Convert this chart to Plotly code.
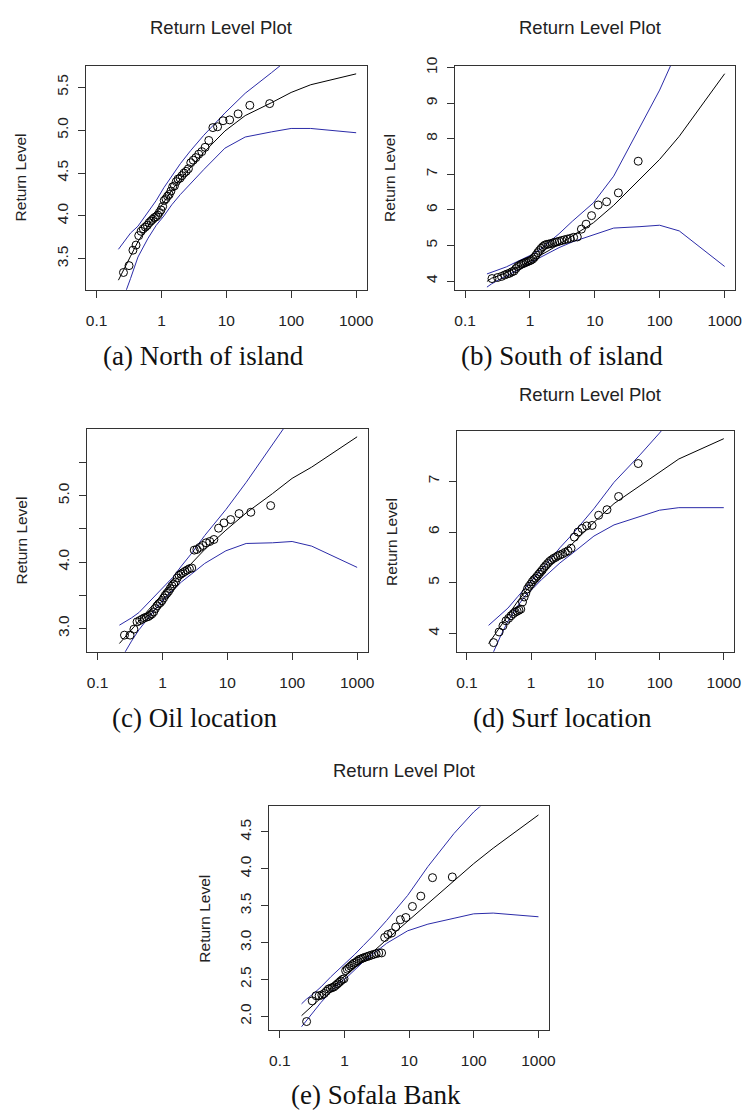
import plotly.graph_objects as go

# ---------------- data ----------------
# empirical return periods of the 46 sorted observations (years)
RETURN_PERIODS = [0.2597, 0.3167, 0.3634, 0.4058, 0.4463, 0.4858, 0.5252, 0.5648, 0.6050, 0.6462,
                  0.6886, 0.7325, 0.7781, 0.8257, 0.8756, 0.9280, 0.9834, 1.0420, 1.1041, 1.1704,
                  1.2413, 1.3174, 1.3992, 1.4877, 1.5840, 1.6889, 1.8041, 1.9309, 2.0712, 2.2272,
                  2.4033, 2.6015, 2.8281, 3.0883, 3.3921, 3.7509, 4.1806, 4.7059, 5.3591, 6.1996,
                  7.3206, 8.8900, 11.242, 15.161, 22.996, 46.498]
# return periods at which the fitted curve and confidence bounds are drawn
CURVE_PERIODS = [0.2171, 0.2556, 0.3338, 0.4343, 0.6213, 0.8306, 1.0913, 1.4427, 1.9576, 2.8037,
                 4.4814, 9.4912, 19.496, 49.498, 99.499, 199.50, 999.50]

X_TICKS = [0.1, 1, 10, 100, 1000]
X_TICK_LABELS = ["0.1", "1", "10", "100", "1000"]

# (a) North of island
pts_north = [3.34, 3.42, 3.60, 3.66, 3.77, 3.82, 3.85, 3.87, 3.89, 3.92, 3.94, 3.96, 3.98, 3.99, 4.01, 4.04,
             4.07, 4.11, 4.18, 4.20, 4.23, 4.25, 4.29, 4.34, 4.35, 4.40, 4.43, 4.44, 4.47, 4.50, 4.52, 4.55,
             4.62, 4.65, 4.68, 4.72, 4.75, 4.80, 4.88, 5.03, 5.04, 5.11, 5.12, 5.19, 5.29, 5.31]
fit_north = [3.25, 3.35, 3.53, 3.70, 3.89, 4.03, 4.16, 4.30, 4.43, 4.57, 4.74, 4.99, 5.17, 5.32, 5.44, 5.53, 5.657]
up_north = [3.61, 3.68, 3.80, 3.88, 4.05, 4.18, 4.33, 4.47, 4.61, 4.76, 4.94, 5.20, 5.43, 5.67, 5.86, 6.04, 6.33]
lo_north = [2.90, 3.03, 3.27, 3.52, 3.74, 3.89, 4.00, 4.13, 4.25, 4.38, 4.54, 4.79, 4.92, 4.98, 5.02, 5.02, 4.97]

# (b) South of island
pts_south = [4.07, 4.10, 4.13, 4.17, 4.20, 4.22, 4.26, 4.28, 4.35, 4.41, 4.44, 4.47, 4.49, 4.51, 4.53, 4.55,
             4.57, 4.59, 4.62, 4.67, 4.73, 4.80, 4.86, 4.92, 4.97, 5.01, 5.03, 5.04, 5.05, 5.07, 5.09, 5.10,
             5.12, 5.14, 5.16, 5.18, 5.20, 5.23, 5.24, 5.46, 5.60, 5.84, 6.14, 6.23, 6.48, 7.37]
fit_south = [3.99, 4.08, 4.15, 4.24, 4.37, 4.48, 4.60, 4.72, 4.86, 5.03, 5.27, 5.64, 6.13, 6.86, 7.42, 8.07, 9.83]
up_south = [4.20, 4.25, 4.32, 4.40, 4.54, 4.65, 4.75, 4.89, 5.08, 5.33, 5.68, 6.20, 6.95, 8.35, 9.37, 10.6, 13.5]
lo_south = [3.83, 3.92, 4.04, 4.15, 4.29, 4.41, 4.55, 4.67, 4.80, 4.94, 5.10, 5.31, 5.49, 5.53, 5.57, 5.41, 4.41]

# (c) Oil location
pts_oil = [2.90, 2.90, 2.99, 3.10, 3.12, 3.14, 3.16, 3.17, 3.18, 3.20, 3.22, 3.25, 3.30, 3.34, 3.37, 3.39,
           3.42, 3.46, 3.50, 3.53, 3.56, 3.60, 3.64, 3.67, 3.70, 3.76, 3.80, 3.82, 3.84, 3.86, 3.88, 3.90,
           3.91, 4.18, 4.19, 4.22, 4.25, 4.29, 4.31, 4.34, 4.51, 4.59, 4.64, 4.73, 4.75, 4.85]
fit_oil = [2.774, 2.85, 2.98, 3.11, 3.29, 3.43, 3.56, 3.69, 3.82, 3.98, 4.19, 4.48, 4.74, 5.03, 5.26, 5.43, 5.886]
up_oil = [3.05, 3.09, 3.16, 3.24, 3.40, 3.52, 3.64, 3.77, 3.94, 4.13, 4.40, 4.79, 5.20, 5.77, 6.21, 6.62, 7.85]
lo_oil = [2.50, 2.62, 2.81, 2.98, 3.18, 3.33, 3.46, 3.57, 3.70, 3.82, 3.98, 4.17, 4.28, 4.29, 4.31, 4.24, 3.92]

# (d) Surf location
pts_surf = [3.82, 4.03, 4.15, 4.25, 4.30, 4.35, 4.39, 4.42, 4.44, 4.46, 4.48, 4.62, 4.72, 4.80, 4.88, 4.93,
            4.97, 5.02, 5.06, 5.09, 5.13, 5.17, 5.21, 5.25, 5.30, 5.34, 5.38, 5.42, 5.45, 5.48, 5.50, 5.53,
            5.55, 5.57, 5.60, 5.63, 5.68, 5.90, 6.00, 6.07, 6.12, 6.13, 6.33, 6.44, 6.70, 7.35]
fit_surf = [3.80, 3.93, 4.16, 4.37, 4.64, 4.84, 5.00, 5.16, 5.33, 5.54, 5.78, 6.19, 6.56, 6.91, 7.19, 7.44, 7.84]
up_surf = [4.16, 4.24, 4.37, 4.50, 4.73, 4.92, 5.10, 5.26, 5.45, 5.69, 5.97, 6.46, 6.98, 7.52, 7.95, 8.40, 9.20]
lo_surf = [3.44, 3.62, 3.95, 4.24, 4.55, 4.76, 4.90, 5.06, 5.21, 5.39, 5.59, 5.92, 6.14, 6.30, 6.43, 6.48, 6.48]

# (e) Sofala Bank
pts_sofala = [1.93, 2.21, 2.28, 2.28, 2.29, 2.31, 2.34, 2.37, 2.38, 2.39, 2.40, 2.42, 2.44, 2.46, 2.48, 2.50,
              2.51, 2.62, 2.64, 2.66, 2.68, 2.70, 2.72, 2.73, 2.75, 2.77, 2.78, 2.79, 2.80, 2.81, 2.82, 2.83,
              2.84, 2.85, 2.86, 2.86, 3.07, 3.11, 3.13, 3.21, 3.31, 3.34, 3.49, 3.63, 3.88, 3.89]
fit_sofala = [2.01, 2.07, 2.16, 2.25, 2.38, 2.48, 2.57, 2.66, 2.76, 2.88, 3.04, 3.29, 3.53, 3.85, 4.07, 4.28, 4.73]
up_sofala = [2.17, 2.23, 2.31, 2.40, 2.54, 2.64, 2.74, 2.84, 2.96, 3.10, 3.30, 3.64, 4.03, 4.48, 4.77, 5.00, 5.60]
lo_sofala = [1.86, 1.94, 2.07, 2.19, 2.34, 2.45, 2.53, 2.63, 2.74, 2.85, 2.99, 3.16, 3.25, 3.33, 3.39, 3.40, 3.35]

Y_TICKS_NORTH = [3.5, 4.0, 4.5, 5.0, 5.5]
Y_LABELS_NORTH = ["3.5", "4.0", "4.5", "5.0", "5.5"]
Y_TICKS_SOUTH = [4, 5, 6, 7, 8, 9, 10]
Y_LABELS_SOUTH = ["4", "5", "6", "7", "8", "9", "10"]
Y_TICKS_OIL = [3.0, 3.5, 4.0, 4.5, 5.0, 5.5]
Y_LABELS_OIL = ["3.0", "", "4.0", "", "5.0", ""]
Y_TICKS_SURF = [4, 5, 6, 7]
Y_LABELS_SURF = ["4", "5", "6", "7"]
Y_TICKS_SOFALA = [2.0, 2.5, 3.0, 3.5, 4.0, 4.5]
Y_LABELS_SOFALA = ["2.0", "2.5", "3.0", "3.5", "4.0", "4.5"]

CAPTIONS = ["(a) North of island", "(b) South of island", "(c) Oil location",
            "(d) Surf location", "(e) Sofala Bank"]
PLOT_TITLE = "Return Level Plot"
Y_TITLE = "Return Level"

# ---------------- layout geometry (pixels) ----------------
W, H = 749, 1110
panels = [
    dict(pts=pts_north, fit=fit_north, up=up_north, lo=lo_north, box=(87, 370, 57, 283),
         yr=[3.139, 5.754], yt=Y_TICKS_NORTH, yl=Y_LABELS_NORTH, title=(223, 18.5),
         ylab=(21, 170), cap=(205, 350)),
    dict(pts=pts_south, fit=fit_south, up=up_south, lo=lo_south, box=(459, 742, 57, 283),
         yr=[3.757, 10.06], yt=Y_TICKS_SOUTH, yl=Y_LABELS_SOUTH, title=(596, 18.5),
         ylab=(393, 170), cap=(567, 350)),
    dict(pts=pts_oil, fit=fit_oil, up=up_oil, lo=lo_oil, box=(88, 371, 423, 648),
         yr=[2.65, 6.01], yt=Y_TICKS_OIL, yl=Y_LABELS_OIL, title=None,
         ylab=(22, 536), cap=(196, 715)),
    dict(pts=pts_surf, fit=fit_surf, up=up_surf, lo=lo_surf, box=(461, 741, 425, 648),
         yr=[3.64, 8.0], yt=Y_TICKS_SURF, yl=Y_LABELS_SURF, title=(596, 388.5),
         ylab=(395, 537), cap=(568, 715)),
    dict(pts=pts_sofala, fit=fit_sofala, up=up_sofala, lo=lo_sofala, box=(272, 554, 804, 1029),
         yr=[1.82, 4.845], yt=Y_TICKS_SOFALA, yl=Y_LABELS_SOFALA, title=(408, 767.5),
         ylab=(206, 917), cap=(380, 1095)),
]

SANS = "Liberation Sans, Arial, Helvetica, sans-serif"
SERIF = "Liberation Serif, Times New Roman, serif"
BLUE = "#2b2ba8"
AXC = "#333333"

fig = go.Figure()
annotations = []
for i, p in enumerate(panels, start=1):
    xa = "x" if i == 1 else f"x{i}"
    ya = "y" if i == 1 else f"y{i}"
    for ys, col in ((p["lo"], BLUE), (p["up"], BLUE), (p["fit"], "black")):
        fig.add_trace(go.Scatter(x=CURVE_PERIODS, y=ys, mode="lines", xaxis=xa, yaxis=ya,
                                 line=dict(color=col, width=1), showlegend=False, hoverinfo="skip"))
    fig.add_trace(go.Scatter(x=RETURN_PERIODS, y=p["pts"], mode="markers", xaxis=xa, yaxis=ya,
                             marker=dict(symbol="circle-open", size=8, color="black",
                                         line=dict(width=1, color="black")),
                             showlegend=False))
    x0, x1, y0, y1 = p["box"]
    xkey = "xaxis" if i == 1 else f"xaxis{i}"
    ykey = "yaxis" if i == 1 else f"yaxis{i}"
    fig.update_layout(**{
        xkey: dict(type="log", range=[-1.16, 3.16], domain=[x0 / W, x1 / W], anchor=ya,
                   tickvals=X_TICKS, ticktext=X_TICK_LABELS, ticks="outside", ticklen=7,
                   tickwidth=1, tickcolor=AXC, showline=True, linecolor=AXC, linewidth=1,
                   mirror=True, showgrid=False, zeroline=False, ticklabelstandoff=10,
                   tickfont=dict(family=SANS, size=15.5, color="#222222")),
        ykey: dict(range=p["yr"], domain=[1 - y1 / H, 1 - y0 / H], anchor=xa,
                   tickvals=p["yt"], ticktext=p["yl"], tickangle=-90, ticks="outside",
                   ticklen=7, tickwidth=1, tickcolor=AXC, showline=True, linecolor=AXC,
                   linewidth=1, mirror=True, showgrid=False, zeroline=False,
                   ticklabelstandoff=4,
                   tickfont=dict(family=SANS, size=15.5, color="#222222")),
    })
    if p["title"]:
        tx, ty = p["title"]
        annotations.append(dict(text=PLOT_TITLE, x=tx / W, y=1 - ty / H, xref="paper", yref="paper",
                                xanchor="center", yanchor="middle", showarrow=False,
                                font=dict(family=SANS, size=18.5, color="#222222")))
    lx, ly = p["ylab"]
    annotations.append(dict(text=Y_TITLE, x=lx / W, y=1 - ly / H, xref="paper", yref="paper",
                            xanchor="center", yanchor="middle", showarrow=False, textangle=-90,
                            font=dict(family=SANS, size=15.5, color="#222222")))
    cx, cy = p["cap"]
    annotations.append(dict(text=CAPTIONS[i - 1], x=cx / W, y=1 - cy / H, xref="paper", yref="paper",
                            xanchor="center", yanchor="middle", showarrow=False,
                            font=dict(family=SERIF, size=27, color="#111111")))

fig.update_layout(width=W, height=H, margin=dict(l=0, r=0, t=0, b=0),
                  paper_bgcolor="white", plot_bgcolor="white", annotations=annotations,
                  showlegend=False)
fig.write_html("out.html")
